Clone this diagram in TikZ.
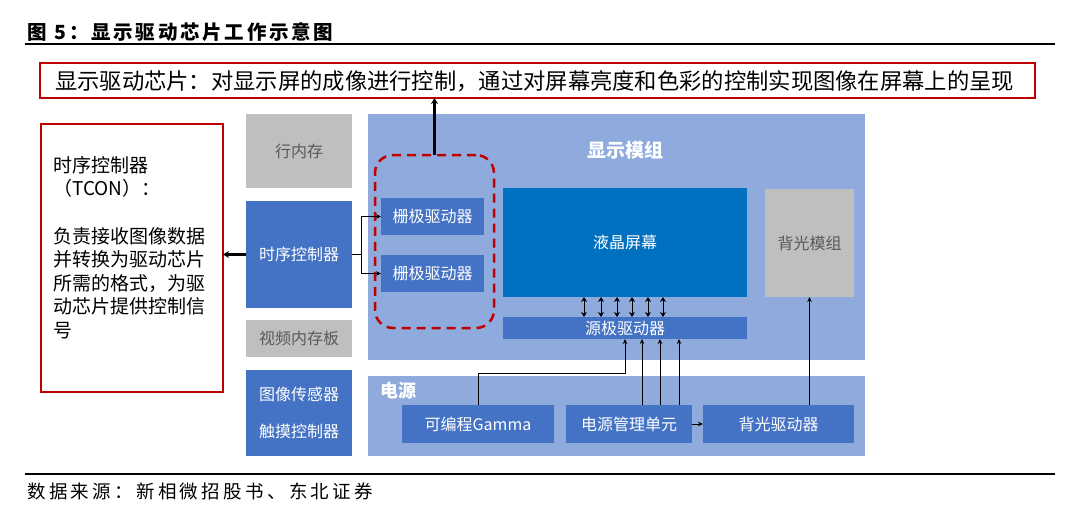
\documentclass[tikz,border=0pt]{standalone}
\usepackage{fontspec}
\setmainfont{Liberation Serif}
\newfontfamily\cjk{Noto Sans CJK SC}
\usetikzlibrary{arrows.meta,calc}
\definecolor{panelc}{HTML}{8FAADC}
\definecolor{boxblue}{HTML}{4472C4}
\definecolor{lcdblue}{HTML}{0070C0}
\definecolor{greyc}{HTML}{BFBFBF}
\definecolor{graytext}{HTML}{595959}
\definecolor{redc}{HTML}{C00000}
\tikzset{
  base/.style={inner sep=0pt, outer sep=0pt, anchor=north west, draw=none},
  panel/.style={base, fill=panelc},
  bbox/.style={base, fill=boxblue, text=white, font=\cjk\fontsize{16}{18}\selectfont},
  lbox/.style={base, fill=lcdblue, text=white, font=\cjk\fontsize{16}{18}\selectfont},
  gbox/.style={base, fill=greyc, text=graytext, font=\cjk\fontsize{16}{18}\selectfont},
  redbox/.style={base, draw=redc, line width=2pt},
  arr/.style={-{Stealth[length=5pt,width=4.5pt]}, line width=0.8pt},
  darr/.style={{Stealth[length=5pt,width=6pt]}-{Stealth[length=5pt,width=6pt]}, line width=1pt},
  thickarr/.style={-{Stealth[length=6pt,width=7pt]}, line width=2.5pt},
}
\begin{document}
\begin{tikzpicture}[x=1pt,y=-1pt]
\useasboundingbox[fill=white] (0,0) rectangle (1080,512);
% title and rules
\node[anchor=west, inner sep=0pt, font=\cjk\bfseries\fontsize{19.5}{22}\selectfont\addfontfeature{LetterSpace=14}] (title) at (27,32) {图\hspace{8pt}5：显示驱动芯片工作示意图};
\draw[line width=1.3pt] (25,44) -- (1055,44);
\draw[line width=1.3pt] (25,474) -- (1055,474);
\node[anchor=west, inner sep=0pt, font=\cjk\fontsize{18.5}{22}\selectfont\addfontfeature{LetterSpace=18}] (src) at (27,491) {数据来源：新相微招股书、东北证券};
% top red box
\node[redbox, minimum width=995, minimum height=35] (topbox) at (40,63) {};
\node[anchor=west, inner sep=0pt, font=\cjk\fontsize{22.3}{24}\selectfont] (toptext) at (55,81) {显示驱动芯片：对显示屏的成像进行控制，通过对屏幕亮度和色彩的控制实现图像在屏幕上的呈现};
% left red box
\node[redbox, minimum width=182, minimum height=268] (leftbox) at (41,124) {};
\node[anchor=north west, inner sep=0pt, align=left, font=\cjk\fontsize{19}{23.6}\selectfont] (lefttext) at (53,156) {时序控制器\\（TCON）：\\[23.6pt]负责接收图像数据\\并转换为驱动芯片\\所需的格式，为驱\\动芯片提供控制信\\号};
% left column
\node[gbox, minimum width=106, minimum height=74] (hmem) at (246,114) {行内存};
\node[bbox, minimum width=106, minimum height=107] (tcon) at (246,201) {时序控制器};
\node[gbox, minimum width=106, minimum height=37] (vmem) at (246,320) {视频内存板};
\node[bbox, minimum width=106, minimum height=86, align=center, font=\cjk\fontsize{16}{37}\selectfont] (sens) at (246,370) {图像传感器\\触摸控制器};
% display module panel
\node[panel, minimum width=497, minimum height=246] (dmod) at (368,114) {};
\node[inner sep=0pt, text=white, font=\cjk\bfseries\fontsize{19}{21}\selectfont] (dmodlbl) at (625,150) {显示模组};
\node[bbox, minimum width=103, minimum height=37] (g1) at (381,198) {栅极驱动器};
\node[bbox, minimum width=103, minimum height=37] (g2) at (381,255) {栅极驱动器};
\node[base, draw=redc, dashed, dash pattern=on 9pt off 6pt, line width=2.5pt, rounded corners=18pt, minimum width=119, minimum height=173] (grp) at (375,155) {};
\node[lbox, minimum width=244, minimum height=109] (lcd) at (503,188) {液晶屏幕};
\node[gbox, minimum width=89, minimum height=108] (blm) at (765,189) {背光模组};
\node[bbox, minimum width=244, minimum height=22] (sdrv) at (503,317) {源极驱动器};
% power panel
\node[panel, minimum width=497, minimum height=80] (pwr) at (368,376) {};
\node[anchor=west, inner sep=0pt, text=white, font=\cjk\bfseries\fontsize{18}{20}\selectfont] (pwrlbl) at (380,391) {电源};
\node[bbox, minimum width=152, minimum height=38] (gam) at (402,405) {可编程Gamma};
\node[bbox, minimum width=126, minimum height=38] (pmu) at (566,405) {电源管理单元};
\node[bbox, minimum width=151, minimum height=38] (bld) at (703,405) {背光驱动器};
% connectors
\draw[thickarr] (grp.north) -- (grp.north |- topbox.south);
\draw[thickarr] (tcon.west) -- (tcon.west -| leftbox.east);
\draw[arr] (tcon.east) -- ++(9,0) |- (g1.west);
\draw[arr] (tcon.east) -- ++(9,0) |- (g2.west);
\foreach \xx in {584,601,617,632,648,663}{
  \coordinate (dc) at (\xx,0);
  \draw[darr] (dc |- lcd.south) -- (dc |- sdrv.north);
}
\draw[arr] (gam.north) -- ++(0,-32) -| (sdrv.south);
\foreach \dx in {13,31,50}{
  \draw[arr] ([xshift=\dx pt]pmu.north) -- ([xshift=\dx pt]pmu.north |- sdrv.south);
}
\draw[arr] (pmu.east) -- (bld.west);
\draw[arr] (blm.south |- bld.north) -- (blm.south);
\end{tikzpicture}
\end{document}
